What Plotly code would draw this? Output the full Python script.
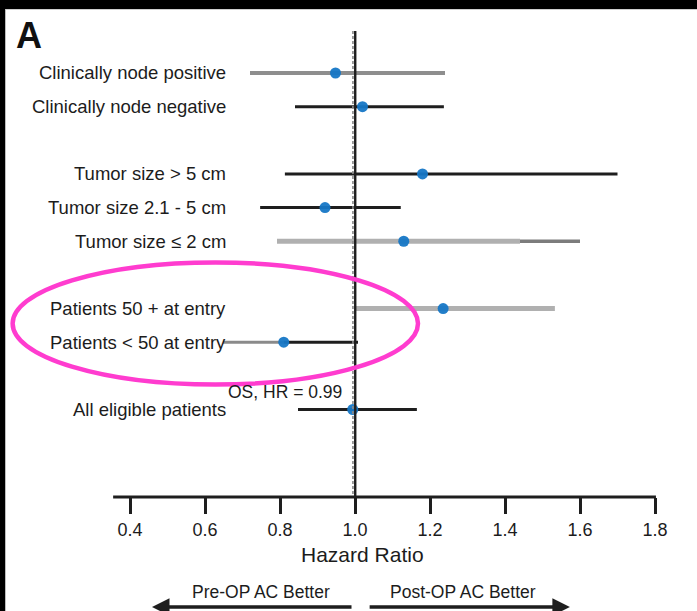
import plotly.graph_objects as go

# ---------------- data ----------------
categories = [
    "Clinically node positive",
    "Clinically node negative",
    "Tumor size > 5 cm",
    "Tumor size 2.1 - 5 cm",
    "Tumor size ≤ 2 cm",
    "Patients 50 + at entry",
    "Patients < 50 at entry",
    "All eligible patients",
]
row_index = [0, 1, 3, 4, 5, 7, 8, 10]
hazard_ratio = [0.948, 1.02, 1.18, 0.92, 1.13, 1.235, 0.81, 0.994]
ci_low = [0.72, 0.84, 0.813, 0.747, 0.792, 1.0, 0.648, 0.848]
ci_high = [1.24, 1.237, 1.70, 1.122, 1.60, 1.533, 1.008, 1.165]
# value where the CI bar changes shade (None = single shade)
shade_break = [None, None, None, None, 1.44, None, 0.81, None]

tick_values = [0.4, 0.6, 0.8, 1.0, 1.2, 1.4, 1.6, 1.8]
tick_labels = ["0.4", "0.6", "0.8", "1.0", "1.2", "1.4", "1.6", "1.8"]
overall_label = "OS, HR = 0.99"

# ---------------- styles ----------------
style_a = [("#8e8e8e", 4), ("#1e1e1e", 3), ("#1e1e1e", 3), ("#1e1e1e", 3),
           ("#b0b0b0", 5), ("#b0b0b0", 5), ("#8a8a8a", 3), ("#1e1e1e", 3)]
style_b = [None, None, None, None, ("#7c7c7c", 3.5), None, ("#1e1e1e", 3), None]

FONT = "Liberation Sans, Arial, sans-serif"
TXT = "#1c1c1c"

fig = go.Figure()

for i in range(len(categories)):
    y = row_index[i]
    if shade_break[i] is None:
        segs = [(ci_low[i], ci_high[i], style_a[i])]
    else:
        segs = [(ci_low[i], shade_break[i], style_a[i]),
                (shade_break[i], ci_high[i], style_b[i])]
    for x0, x1, (col, w) in segs:
        fig.add_trace(go.Scatter(x=[x0, x1], y=[y, y], mode="lines",
                                 line=dict(color=col, width=w),
                                 hoverinfo="skip", showlegend=False))

fig.add_trace(go.Scatter(x=hazard_ratio, y=row_index, mode="markers",
                         marker=dict(color="#1677c6", size=11, opacity=0.95,
                                     line=dict(width=0)),
                         showlegend=False))

Y_TOP = -2.169
Y_BOT = 12.6

shapes = []
shapes.append(dict(type="line", xref="x", yref="y", x0=0.9945, x1=0.9945,
                   y0=-1.25, y1=Y_BOT, line=dict(color="#8a8a8a", width=1.6, dash="3px,2px")))
shapes.append(dict(type="line", xref="x", yref="y", x0=1.0006, x1=1.0006,
                   y0=-1.25, y1=Y_BOT, line=dict(color="#1e1e1e", width=2.4)))
shapes.append(dict(type="line", xref="x", yref="paper", x0=0.355, x1=1.8025,
                   y0=0, y1=0, line=dict(color="#1e1e1e", width=3)))
shapes.append(dict(type="circle", xref="x", yref="y", x0=0.087, x1=1.168,
                   y0=5.63, y1=9.26, line=dict(color="#ff3ccf", width=4.5)))
shapes.append(dict(type="rect", xref="paper", yref="paper", x0=0, x1=1,
                   y0=(497 - 9) / 497, y1=1.0, fillcolor="black", line=dict(width=0), layer="above"))
shapes.append(dict(type="line", xref="paper", yref="paper", x0=0, x1=1,
                   y0=(497 - 9.5) / 497, y1=(497 - 9.5) / 497, line=dict(color="#cfcfcf", width=1)))
shapes.append(dict(type="rect", xref="paper", yref="paper", x0=0, x1=5 / 697,
                   y0=-114 / 497, y1=1.0, fillcolor="black", line=dict(width=0), layer="above"))
shapes.append(dict(type="line", xref="paper", yref="paper", x0=5.5 / 697, x1=5.5 / 697,
                   y0=-114 / 497, y1=(497 - 9) / 497, line=dict(color="#bdbdbd", width=1)))

annotations = []
for i, lab in enumerate(categories):
    annotations.append(dict(x=0.662, y=row_index[i], xref="x", yref="y", text=lab,
                            showarrow=False, xanchor="right", yanchor="middle",
                            font=dict(family=FONT, size=18.5, color=TXT)))
annotations.append(dict(x=0.970, y=9.48, xref="x", yref="y", text=overall_label,
                        showarrow=False, xanchor="right", yanchor="middle",
                        font=dict(family=FONT, size=17.5, color=TXT)))
annotations.append(dict(x=14 / 697, y=(497 - 35) / 497, xref="paper", yref="paper", text="<b>A</b>",
                        showarrow=False, xanchor="left", yanchor="middle",
                        font=dict(family=FONT, size=36, color="#111111")))
annotations.append(dict(x=1.021, y=(497 - 554) / 497, xref="x", yref="paper", text="Hazard Ratio",
                        showarrow=False, xanchor="center", yanchor="middle",
                        font=dict(family=FONT, size=21, color=TXT)))
annotations.append(dict(x=0.75, y=(497 - 592) / 497, xref="x", yref="paper", text="Pre-OP AC Better",
                        showarrow=False, xanchor="center", yanchor="middle",
                        font=dict(family=FONT, size=17.5, color=TXT)))
annotations.append(dict(x=1.288, y=(497 - 592) / 497, xref="x", yref="paper", text="Post-OP AC Better",
                        showarrow=False, xanchor="center", yanchor="middle",
                        font=dict(family=FONT, size=17.5, color=TXT)))
annotations.append(dict(x=0.4587, y=(497 - 607) / 497, xref="x", yref="paper",
                        ax=0.9947, ay=0, axref="x", ayref="pixel", text="",
                        showarrow=True, arrowhead=2, arrowsize=1, arrowwidth=3.5,
                        arrowcolor="#1e1e1e"))
annotations.append(dict(x=1.573, y=(497 - 607) / 497, xref="x", yref="paper",
                        ax=1.035, ay=0, axref="x", ayref="pixel", text="",
                        showarrow=True, arrowhead=2, arrowsize=1, arrowwidth=3.5,
                        arrowcolor="#1e1e1e"))

fig.update_layout(
    width=697, height=611,
    margin=dict(l=0, r=0, t=0, b=114, pad=0),
    paper_bgcolor="white", plot_bgcolor="white",
    shapes=shapes, annotations=annotations,
    showlegend=False,
    xaxis=dict(range=[0.05333, 1.912], tickvals=tick_values, ticktext=tick_labels,
               ticks="outside", ticklen=16, tickwidth=3, tickcolor="#1e1e1e",
               showgrid=False, zeroline=False, showline=False,
               tickfont=dict(family=FONT, size=18, color=TXT), fixedrange=True),
    yaxis=dict(range=[Y_BOT, Y_TOP], visible=False, showgrid=False, zeroline=False,
               fixedrange=True),
)

fig.write_html("out.html", config={"displayModeBar": False})
